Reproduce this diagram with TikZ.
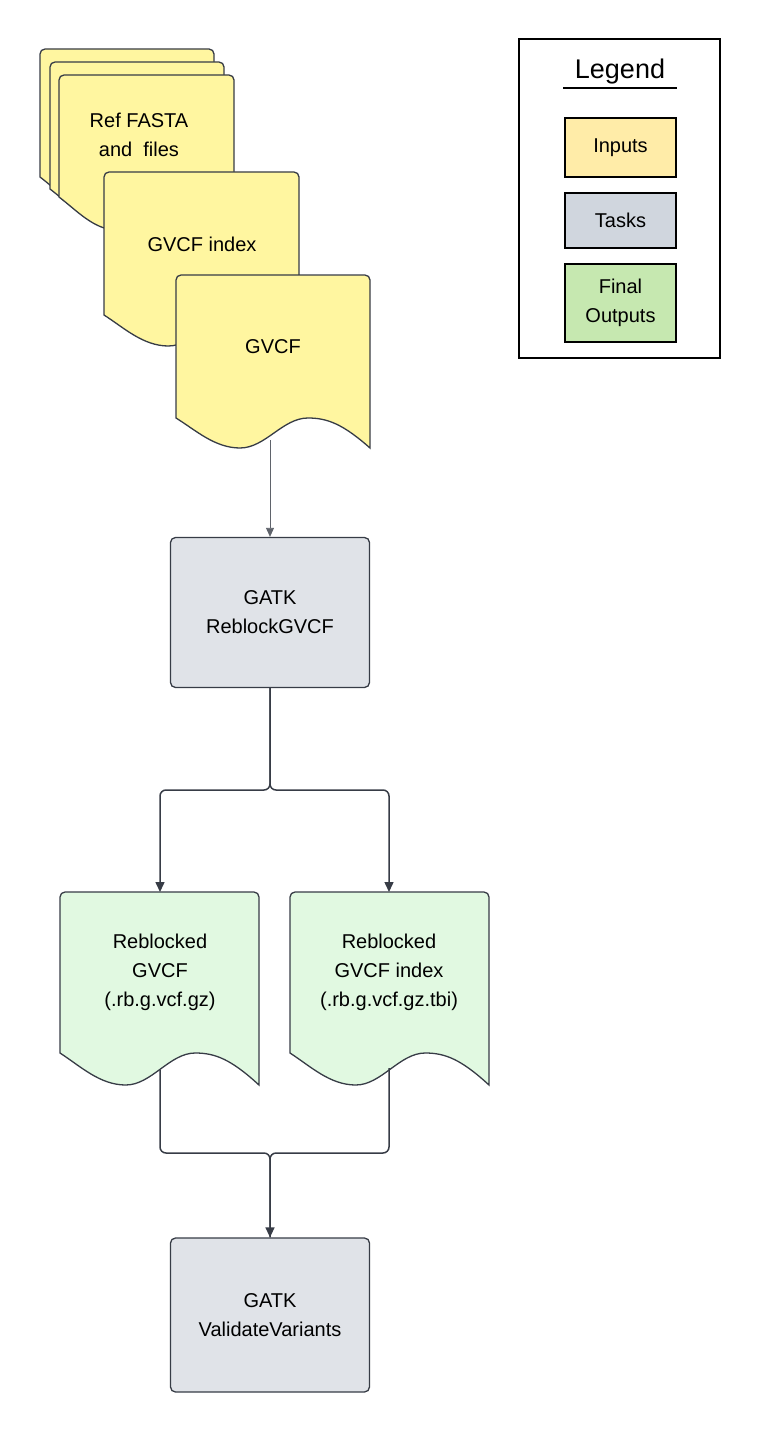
\documentclass[tikz,border=0pt]{standalone}
\usepackage{fontspec}
\setmainfont{Liberation Sans}
\usetikzlibrary{arrows.meta}
\definecolor{yel}{RGB}{255,246,160}
\definecolor{grn}{RGB}{225,249,225}
\definecolor{tsk}{RGB}{224,227,232}
\definecolor{lin}{RGB}{55,60,70}
\definecolor{lyel}{RGB}{255,236,168}
\definecolor{ltsk}{RGB}{208,214,222}
\definecolor{lgrn}{RGB}{198,232,176}
\newcommand\mydoc[6]{% x0 yt x1 yb d fill
  \pgfmathsetmacro\w{#3-#1}
  \filldraw[fill=#6,draw=lin,line width=1.3pt]
    (#1,#4-#5) [rounded corners=5] -- (#1,#2) -- (#3,#2) [sharp corners] -- (#3,#4)
    .. controls ({#1+0.86*\w},{#4-0.8*#5}) and ({#1+0.78*\w},{#4-#5}) .. ({#1+0.68*\w},{#4-#5})
    .. controls ({#1+0.55*\w},{#4-#5}) and ({#1+0.46*\w},{#4}) .. ({#1+0.33*\w},{#4})
    .. controls ({#1+0.2*\w},{#4}) and ({#1+0.1*\w},{#4-0.6*#5}) .. (#1,#4-#5) -- cycle;}
\tikzset{txt/.style={font=\fontsize{20}{29}\selectfont,align=center,inner sep=0},
  task/.style={draw=lin,fill=tsk,line width=1.3pt,rounded corners=5,minimum width=199,minimum height=150,txt},
  leg/.style={draw=black,line width=2.5pt,minimum width=111,txt},
  conn/.style={draw=lin,line width=1.5pt,rounded corners=6},
  arr/.style={conn,-{Triangle[length=10pt,width=9pt]}}}
\begin{document}
\begin{tikzpicture}[x=1pt,y=-1pt]
\useasboundingbox (0,0) rectangle (780,1434);
% input stack
\mydoc{40}{49}{214}{210}{33}{yel}
\mydoc{50}{62}{224}{222}{33}{yel}
\mydoc{59}{75}{234}{230}{33}{yel}
\node[txt] (ref) at (139,135) {Ref FASTA\\and\ \ files};
\mydoc{104}{172}{299}{346}{31}{yel}
\node[txt] (gidx) at (202,244) {GVCF index};
\mydoc{176}{275}{370}{448}{30}{yel}
\node[txt] (gvcf) at (273,347) {GVCF};
\coordinate (gvcfb) at (270,440);
% tasks
\node[task] (reb) at (270,612.5) {GATK\\ReblockGVCF};
\node[task,minimum height=154] (val) at (270,1315) {GATK\\ValidateVariants};
\draw[draw=lin!80,line width=0.8pt,-{Triangle[length=9pt,width=8pt]}] (gvcfb) -- (reb.north);
% outputs
\mydoc{60}{892}{259}{1085}{32}{grn}
\node[txt] (o1) at (160,972) {Reblocked\\GVCF\\(.rb.g.vcf.gz)};
\mydoc{290}{892}{489}{1085}{32}{grn}
\node[txt] (o2) at (389,972) {Reblocked\\GVCF index\\(.rb.g.vcf.gz.tbi)};
\coordinate (o1t) at (160,892); \coordinate (o2t) at (389,892);
\coordinate (o1b) at (160,1070); \coordinate (o2b) at (389,1068);
\draw[arr] (reb.south) |- (215,790) -| (o1t);
\draw[arr] (reb.south) |- (330,790) -| (o2t);
\draw[conn] (o1b) |- (215,1153) -| (val.north);
\draw[arr] (o2b) |- (330,1153) -| (val.north);
% legend
\draw[line width=2.5pt] (519,39) rectangle (720,358);
\node[txt,font=\fontsize{27}{30}\selectfont] (lt) at (620,72) {Legend};
\draw[line width=1.5pt] (563,88) -- (677,88);
\node[leg,fill=lyel,minimum height=59] (li) at (620.5,147.5) {Inputs};
\node[leg,fill=ltsk,minimum height=55] (lk) at (620.5,220.5) {Tasks};
\node[leg,fill=lgrn,minimum height=78] (lo) at (620.5,303) {Final\\Outputs};
\end{tikzpicture}
\end{document}
